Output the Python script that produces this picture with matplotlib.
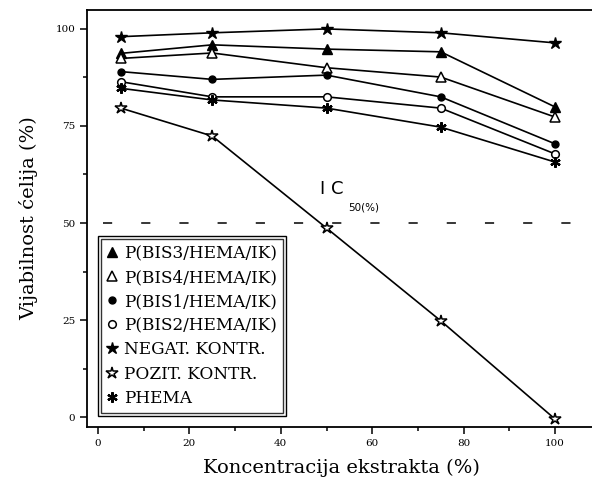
import numpy as np
from matplotlib import pyplot as plt
from matplotlib.patches import Rectangle

plt.rcParams['font.family'] = ['DejaVu Serif']

# koncentracija ekstrakta (%)
konc = [5, 25, 50, 75, 100]

# vijabilnost celija (%) za svaku seriju
bis3 = [93.7, 95.9, 94.8, 94.1, 79.9]
bis4 = [92.4, 93.8, 90.0, 87.6, 77.3]
bis1 = [89.0, 87.0, 88.1, 82.5, 70.4]
bis2 = [86.4, 82.5, 82.5, 79.6, 67.8]
negat = [98.0, 99.0, 100.0, 99.0, 96.4]
pozit = [79.6, 72.4, 48.7, 24.8, -0.5]
phema = [84.7, 81.7, 79.6, 74.7, 65.7]

nazivi = ['P(BIS3/HEMA/IK)', 'P(BIS4/HEMA/IK)', 'P(BIS1/HEMA/IK)',
          'P(BIS2/HEMA/IK)', 'NEGAT. KONTR.', 'POZIT. KONTR.', 'PHEMA']
ic50 = 50

fig = plt.figure(figsize=(5.92, 4.95), dpi=100)
ax = fig.add_axes([0.147, 0.137, 0.86, 0.843])

# isprekidana linija IC50
ax.plot([1, 110], [ic50, ic50], color='black', lw=1.1, dashes=(6, 19))

stil = dict(color='black', lw=1.2, ms=6.5)
ax.plot(konc, bis3, marker='^', label=nazivi[0], **stil)
ax.plot(konc, bis4, marker='^', mfc='white', mew=1.1, label=nazivi[1], **stil)
ax.plot(konc, bis1, marker='o', label=nazivi[2], color='black', lw=1.2, ms=5)
ax.plot(konc, bis2, marker='o', mfc='white', mew=1.1, label=nazivi[3],
        color='black', lw=1.2, ms=5.5)
ax.plot(konc, negat, marker='*', label=nazivi[4], color='black', lw=1.2, ms=9)
ax.plot(konc, pozit, marker='*', mfc='white', mew=1.1, label=nazivi[5],
        color='black', lw=1.2, ms=9)
ax.plot(konc, phema, marker=(6, 2, 0), mew=1.6, label=nazivi[6],
        color='black', lw=1.2, ms=7.5)

ax.text(48.5, 57.5, 'I C', fontsize=13, family='DejaVu Sans')
ax.text(54.8, 53.2, '50(%)', fontsize=7.5, family='DejaVu Sans')

ax.set_xlim(-2.4, 109)
ax.set_ylim(-2.6, 104.9)
ax.set_xticks([0, 20, 40, 60, 80, 100])
ax.set_xticks(np.arange(10, 110, 20), minor=True)
ax.set_yticks([0, 25, 50, 75, 100])
ax.set_yticks(np.arange(12.5, 100, 25), minor=True)
ax.tick_params(which='both', direction='out', width=1.1, labelsize=7.5)
ax.tick_params(which='major', length=5)
ax.tick_params(which='minor', length=3)
ax.spines['right'].set_visible(False)
for s in ['left', 'top', 'bottom']:
    ax.spines[s].set_linewidth(1.3)

ax.set_xlabel('Koncentracija ekstrakta (%)', fontsize=14, labelpad=8)
ax.set_ylabel('Vijabilnost ćelija (%)', fontsize=14, labelpad=12)

leg = ax.legend(loc='lower left', bbox_to_anchor=(0.028, 0.035),
                fontsize=12.2, frameon=True, fancybox=False, edgecolor='black',
                handlelength=0.6, handletextpad=0.4, labelspacing=0.42,
                borderpad=0.35, borderaxespad=0)
leg.get_frame().set_linewidth(1.0)
for h in leg.legend_handles:
    h.set_linestyle('none')

# dvostruki okvir legende
fig.canvas.draw()
bb = leg.get_window_extent().transformed(ax.transAxes.inverted())
pad = 0.006
ax.add_patch(Rectangle((bb.x0 - pad, bb.y0 - pad * 1.2), bb.width + 2 * pad,
                       bb.height + 2.4 * pad, fill=False, ec='black', lw=1.0,
                       transform=ax.transAxes, zorder=6))

fig.savefig('out.png', dpi=100)
